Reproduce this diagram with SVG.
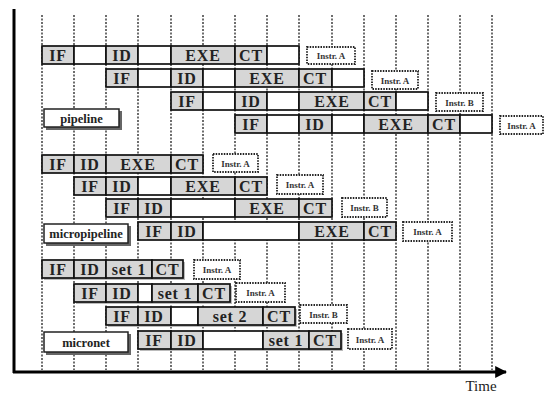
<svg xmlns="http://www.w3.org/2000/svg" width="546" height="394" viewBox="0 0 546 394">
<defs>
<style>
.grid{stroke:#4a4a4a;stroke-width:1.6;stroke-dasharray:2 1.5}
.s{fill:#d6d6d6;stroke:#111;stroke-width:1.7}
.e{fill:#fff;stroke:#111;stroke-width:1.7}
.t{font-family:"Liberation Serif","DejaVu Serif",serif;font-weight:bold;font-size:16px;letter-spacing:0.8px;fill:#222;text-anchor:middle}
.ib{fill:#fff;stroke:#222;stroke-width:1.8;stroke-dasharray:1.5 1.2}
.it{font-family:"Liberation Serif","DejaVu Serif",serif;font-weight:bold;font-size:9px;fill:#333;text-anchor:middle}
.lb{fill:#fff;stroke:#222;stroke-width:1.5}
.sh{fill:#666}
.ls{fill:#bbb}
.lt{font-family:"Liberation Serif","DejaVu Serif",serif;font-weight:bold;font-size:12.5px;fill:#222;text-anchor:middle}
.axis{stroke:#000;stroke-width:3;fill:none}
</style>
<marker id="arr" viewBox="0 0 10 10" refX="9" refY="5" markerWidth="4" markerHeight="4" orient="auto" markerUnits="strokeWidth">
<path d="M0,0 L10,5 L0,10 z" fill="#000"/>
</marker>
</defs>
<rect width="546" height="394" fill="#fff"/>
<g id="grid">
<line class="grid" x1="42" y1="15" x2="42" y2="370"/>
<line class="grid" x1="74" y1="15" x2="74" y2="370"/>
<line class="grid" x1="106" y1="15" x2="106" y2="370"/>
<line class="grid" x1="138" y1="15" x2="138" y2="370"/>
<line class="grid" x1="171" y1="15" x2="171" y2="370"/>
<line class="grid" x1="203" y1="15" x2="203" y2="370"/>
<line class="grid" x1="235" y1="15" x2="235" y2="370"/>
<line class="grid" x1="267" y1="15" x2="267" y2="370"/>
<line class="grid" x1="299" y1="15" x2="299" y2="370"/>
<line class="grid" x1="332" y1="15" x2="332" y2="370"/>
<line class="grid" x1="364" y1="15" x2="364" y2="370"/>
<line class="grid" x1="396" y1="15" x2="396" y2="370"/>
<line class="grid" x1="428" y1="15" x2="428" y2="370"/>
<line class="grid" x1="460" y1="15" x2="460" y2="370"/>
<line class="grid" x1="492" y1="15" x2="492" y2="370"/>
</g>
<g id="connectors">
<line class="axis" x1="14" y1="9" x2="14" y2="373"/>
<line class="axis" x1="13" y1="372" x2="506" y2="372" marker-end="url(#arr)"/>
</g>
<text x="481" y="391" font-family="Liberation Serif, serif" font-size="15" fill="#222" text-anchor="middle">Time</text>

<!-- pipeline -->
<g id="row1">
<rect class="s" x="42" y="46" width="32" height="18"/><text class="t" x="58" y="61">IF</text>
<rect class="e" x="74" y="46" width="32" height="18"/>
<rect class="s" x="106" y="46" width="32" height="18"/><text class="t" x="122" y="61">ID</text>
<rect class="e" x="138" y="46" width="33" height="18"/>
<rect class="s" x="171" y="46" width="64" height="18"/><text class="t" x="203" y="61">EXE</text>
<rect class="s" x="235" y="46" width="32" height="18"/><text class="t" x="251" y="61">CT</text>
<rect class="e" x="267" y="46" width="32" height="18"/>
</g>
<g id="instr1"><rect class="ib" x="307" y="47" width="48" height="17"/><text class="it" x="331" y="59">Instr. A</text></g>
<g id="row2">
<rect class="s" x="106" y="69" width="32" height="18"/><text class="t" x="122" y="84">IF</text>
<rect class="e" x="138" y="69" width="33" height="18"/>
<rect class="s" x="171" y="69" width="32" height="18"/><text class="t" x="187" y="84">ID</text>
<rect class="e" x="203" y="69" width="32" height="18"/>
<rect class="s" x="235" y="69" width="64" height="18"/><text class="t" x="267" y="84">EXE</text>
<rect class="s" x="299" y="69" width="33" height="18"/><text class="t" x="315" y="84">CT</text>
<rect class="e" x="332" y="69" width="32" height="18"/>
</g>
<g id="instr2"><rect class="ib" x="372" y="71" width="46" height="18"/><text class="it" x="395" y="83.5">Instr. A</text></g>
<g id="row3">
<rect class="s" x="171" y="92" width="32" height="18"/><text class="t" x="187" y="107">IF</text>
<rect class="e" x="203" y="92" width="32" height="18"/>
<rect class="s" x="235" y="92" width="32" height="18"/><text class="t" x="251" y="107">ID</text>
<rect class="e" x="267" y="92" width="32" height="18"/>
<rect class="s" x="299" y="92" width="65" height="18"/><text class="t" x="332" y="107">EXE</text>
<rect class="s" x="364" y="92" width="32" height="18"/><text class="t" x="380" y="107">CT</text>
<rect class="e" x="396" y="92" width="32" height="18"/>
</g>
<g id="instr3"><rect class="ib" x="436" y="93" width="47" height="18"/><text class="it" x="459.5" y="105.5">Instr. B</text></g>
<g id="row4">
<rect class="s" x="235" y="115" width="32" height="18"/><text class="t" x="251" y="130">IF</text>
<rect class="e" x="267" y="115" width="32" height="18"/>
<rect class="s" x="299" y="115" width="33" height="18"/><text class="t" x="315" y="130">ID</text>
<rect class="e" x="332" y="115" width="32" height="18"/>
<rect class="s" x="364" y="115" width="64" height="18"/><text class="t" x="396" y="130">EXE</text>
<rect class="s" x="428" y="115" width="32" height="18"/><text class="t" x="444" y="130">CT</text>
<rect class="e" x="460" y="115" width="32" height="18"/>
</g>
<g id="instr4"><rect class="ib" x="500" y="116" width="43" height="18"/><text class="it" x="521.5" y="128.5">Instr. A</text></g>
<g id="label-pipeline">
<rect class="sh" x="46" y="111" width="76" height="19"/>
<rect class="lb" x="44" y="109" width="75" height="18"/>
<text class="lt" x="81.5" y="122.5">pipeline</text>
</g>

<!-- micropipeline -->
<g id="row5">
<rect class="s" x="42" y="155" width="32" height="18"/><text class="t" x="58" y="170">IF</text>
<rect class="s" x="74" y="155" width="32" height="18"/><text class="t" x="90" y="170">ID</text>
<rect class="s" x="106" y="155" width="65" height="18"/><text class="t" x="138" y="170">EXE</text>
<rect class="s" x="171" y="155" width="32" height="18"/><text class="t" x="187" y="170">CT</text>
</g>
<g id="instr5"><rect class="ib" x="213" y="154" width="45" height="18"/><text class="it" x="235.5" y="166.5">Instr. A</text></g>
<g id="row6">
<rect class="s" x="74" y="177" width="32" height="18"/><text class="t" x="90" y="192">IF</text>
<rect class="s" x="106" y="177" width="32" height="18"/><text class="t" x="122" y="192">ID</text>
<rect class="e" x="138" y="177" width="33" height="18"/>
<rect class="s" x="171" y="177" width="64" height="18"/><text class="t" x="203" y="192">EXE</text>
<rect class="s" x="235" y="177" width="32" height="18"/><text class="t" x="251" y="192">CT</text>
</g>
<g id="instr6"><rect class="ib" x="277" y="175" width="46" height="19"/><text class="it" x="300" y="188">Instr. A</text></g>
<g id="row7">
<rect class="s" x="106" y="199" width="32" height="18"/><text class="t" x="122" y="214">IF</text>
<rect class="s" x="138" y="199" width="33" height="18"/><text class="t" x="154" y="214">ID</text>
<rect class="e" x="171" y="199" width="64" height="18"/>
<rect class="s" x="235" y="199" width="64" height="18"/><text class="t" x="267" y="214">EXE</text>
<rect class="s" x="299" y="199" width="33" height="18"/><text class="t" x="315" y="214">CT</text>
</g>
<g id="instr7"><rect class="ib" x="342" y="198" width="45" height="19"/><text class="it" x="364.5" y="211">Instr. B</text></g>
<g id="row8">
<rect class="s" x="138" y="222" width="33" height="18"/><text class="t" x="154" y="237">IF</text>
<rect class="s" x="171" y="222" width="32" height="18"/><text class="t" x="187" y="237">ID</text>
<rect class="e" x="203" y="222" width="96" height="18"/>
<rect class="s" x="299" y="222" width="65" height="18"/><text class="t" x="332" y="237">EXE</text>
<rect class="s" x="364" y="222" width="32" height="18"/><text class="t" x="380" y="237">CT</text>
</g>
<g id="instr8"><rect class="ib" x="403" y="222" width="49" height="19"/><text class="it" x="427.5" y="235">Instr. A</text></g>
<g id="label-micropipeline">
<rect class="sh" x="46" y="226" width="85" height="20"/>
<rect class="lb" x="44" y="224" width="84" height="19"/>
<text class="lt" x="86" y="238">micropipeline</text>
</g>

<!-- micronet -->
<g id="row9">
<rect class="ls" x="44" y="262" width="141" height="18"/>
<rect class="s" x="42" y="260" width="32" height="18"/><text class="t" x="58" y="275">IF</text>
<rect class="s" x="74" y="260" width="32" height="18"/><text class="t" x="90" y="275">ID</text>
<rect class="s" x="106" y="260" width="46" height="18"/><text class="t" x="129" y="275">set 1</text>
<rect class="s" x="152" y="260" width="31" height="18"/><text class="t" x="167.5" y="275">CT</text>
</g>
<g id="instr9"><rect class="ib" x="194" y="260" width="46" height="19"/><text class="it" x="217" y="273">Instr. A</text></g>
<g id="row10">
<rect class="ls" x="76" y="286" width="156" height="18"/>
<rect class="s" x="74" y="284" width="32" height="18"/><text class="t" x="90" y="299">IF</text>
<rect class="s" x="106" y="284" width="32" height="18"/><text class="t" x="122" y="299">ID</text>
<rect class="e" x="138" y="284" width="14" height="18"/>
<rect class="s" x="152" y="284" width="46" height="18"/><text class="t" x="175" y="299">set 1</text>
<rect class="s" x="198" y="284" width="32" height="18"/><text class="t" x="214" y="299">CT</text>
</g>
<g id="instr10"><rect class="ib" x="236" y="283" width="49" height="19"/><text class="it" x="260.5" y="296">Instr. A</text></g>
<g id="row11">
<rect class="ls" x="108" y="309" width="189" height="18"/>
<rect class="s" x="106" y="307" width="32" height="18"/><text class="t" x="122" y="322">IF</text>
<rect class="s" x="138" y="307" width="33" height="18"/><text class="t" x="154" y="322">ID</text>
<rect class="e" x="171" y="307" width="27" height="18"/>
<rect class="s" x="198" y="307" width="65" height="18"/><text class="t" x="230" y="322">set 2</text>
<rect class="s" x="263" y="307" width="32" height="18"/><text class="t" x="279" y="322">CT</text>
</g>
<g id="instr11"><rect class="ib" x="300" y="305" width="47" height="18"/><text class="it" x="323.5" y="317.5">Instr. B</text></g>
<g id="row12">
<rect class="ls" x="140" y="333" width="203" height="18"/>
<rect class="s" x="138" y="331" width="33" height="18"/><text class="t" x="154" y="346">IF</text>
<rect class="s" x="171" y="331" width="32" height="18"/><text class="t" x="187" y="346">ID</text>
<rect class="e" x="203" y="331" width="60" height="18"/>
<rect class="s" x="263" y="331" width="46" height="18"/><text class="t" x="286" y="346">set 1</text>
<rect class="s" x="309" y="331" width="32" height="18"/><text class="t" x="325" y="346">CT</text>
</g>
<g id="instr12"><rect class="ib" x="348" y="329" width="44" height="20"/><text class="it" x="370" y="342.5">Instr. A</text></g>
<g id="label-micronet">
<rect class="sh" x="46" y="334" width="85" height="21"/>
<rect class="lb" x="44" y="332" width="84" height="20"/>
<text class="lt" x="86" y="346.5">micronet</text>
</g>
</svg>
